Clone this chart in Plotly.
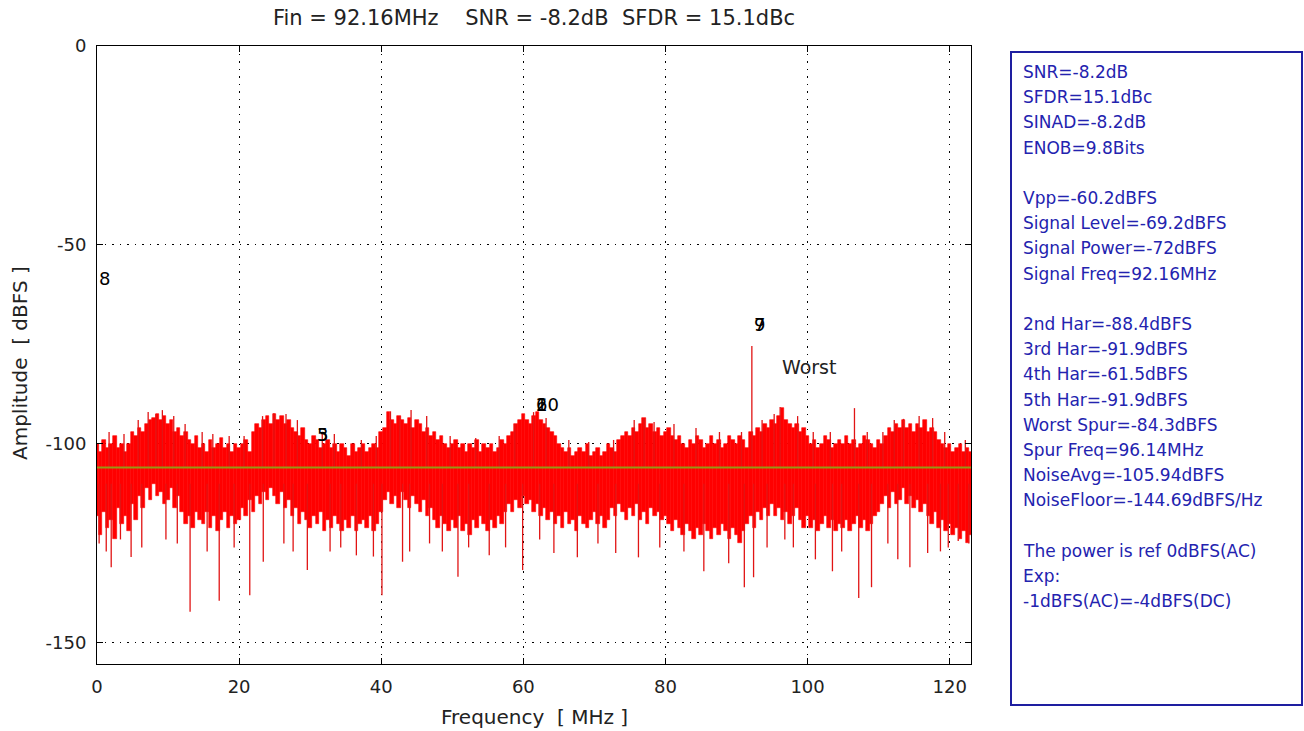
import plotly.graph_objects as go

# ---------------- data ----------------
FREQ_STEP = 0.5  # MHz spacing of the noise bins below
noise_top = [
    -100, -102, -99, -101, -100, -98, -101, -100, -102, -100,
    -97, -98, -96, -97, -95, -94, -93.5, -92.5, -94, -93,
    -95, -94, -97, -96, -98, -97, -99, -100, -98, -101,
    -100, -102, -99, -101, -100, -98.5, -101, -100, -102, -100,
    -101, -100, -99, -102, -97, -95, -96, -94, -93, -95,
    -92.5, -94, -93, -95, -94, -96, -97, -98, -96, -99,
    -100, -98, -99, -101, -100, -99, -101, -100, -102, -100,
    -101, -103, -100, -102, -101, -100, -102, -101, -100, -101,
    -97, -96, -92, -94, -95, -93, -94, -95, -93.5, -96,
    -94, -95, -97, -96, -98, -97, -99, -98, -100, -101,
    -100, -99, -101, -100, -102, -100, -101, -99, -102, -100,
    -101, -100, -102, -101, -99, -100, -98, -97, -95, -94,
    -92.5, -94, -95, -93, -92, -94, -95, -96, -97, -98,
    -100, -101, -102, -101, -103, -102, -101, -102, -100, -103,
    -102, -101, -103, -102, -100, -101, -102, -99, -98, -97,
    -98, -96, -97, -95, -93.5, -96, -95, -97, -96, -98,
    -97, -96, -98, -99, -98, -100, -101, -99, -100, -98,
    -99, -101, -100, -98, -100, -99, -101, -100, -98, -99,
    -100, -98, -99, -101, -97, -98, -96, -97, -95, -96,
    -94, -95, -93, -91, -94, -95, -96, -95, -97, -96,
    -98, -100, -99, -101, -100, -98, -99, -101, -100, -99,
    -100, -98, -100, -99, -101, -100, -98, -99, -100, -101,
    -99, -100, -98, -96, -97, -95, -96, -94, -96, -95,
    -97, -95, -96, -94, -97, -96, -97, -99, -100, -101,
    -100, -102, -101, -100, -102, -101, -102,
]
noise_bottom = [
    -118, -123, -117, -121, -119, -124, -116, -120, -118, -122,
    -115, -119, -113, -116, -111, -114, -110, -113, -112, -115,
    -114, -111, -116, -113, -117, -120, -118, -121, -117, -119,
    -120, -117, -121, -118, -122, -119, -117, -121, -118, -120,
    -119, -116, -118, -114, -117, -113, -115, -112, -114, -111,
    -113, -115, -112, -116, -114, -118, -116, -120, -117, -119,
    -121, -118, -120, -117, -122, -119, -121, -118, -120, -122,
    -119, -121, -118, -122, -120, -119, -121, -118, -122, -120,
    -117, -114, -112, -115, -113, -116, -112, -114, -116, -113,
    -115, -117, -114, -118, -116, -119, -121, -118, -120, -122,
    -119, -121, -118, -122, -120, -123, -119, -121, -118, -120,
    -122, -119, -121, -118, -120, -117, -115, -117, -114, -116,
    -113, -115, -114, -117, -115, -118, -116, -119, -117, -120,
    -118, -121, -117, -120, -119, -122, -118, -120, -121, -119,
    -117, -120, -118, -121, -119, -116, -118, -115, -117, -119,
    -116, -118, -115, -119, -117, -120, -116, -118, -117, -119,
    -118, -120, -122, -119, -121, -123, -120, -122, -124, -121,
    -123, -120, -122, -124, -121, -123, -120, -122, -124, -121,
    -123, -125, -122, -120, -118, -121, -117, -119, -116, -118,
    -115, -118, -116, -119, -117, -120, -118, -116, -119, -121,
    -118, -121, -119, -122, -120, -118, -121, -119, -122, -120,
    -121, -119, -122, -120, -118, -121, -119, -122, -120, -118,
    -117, -115, -113, -116, -112, -115, -114, -111, -115, -113,
    -116, -114, -117, -115, -118, -120, -117, -121, -119, -122,
    -120, -123, -121, -124, -122, -125, -123,
]
noise_freq = [i * FREQ_STEP for i in range(len(noise_top))]

# deep downward noise lines (MHz, dBFS)
dip_freq = [0.3, 1.3, 2.0, 3.3, 4.8, 6.3, 9.7, 11.3, 13.1, 15.5, 17.2, 19.3, 21.5, 23.4,
            26.3, 27.6, 29.6, 32.8, 34.3, 36.5, 38.9, 40.1, 43.0, 44.0, 46.8, 48.6, 50.8,
            52.3, 55.2, 57.5, 59.9, 62.3, 64.3, 67.6, 70.5, 73.0, 76.2, 79.2, 82.6, 85.4,
            88.9, 91.1, 92.4, 94.3, 96.8, 98.0, 101.1, 103.5, 104.8, 107.2, 109.0, 111.3,
            112.7, 114.4, 116.9, 118.7, 119.8, 121.2, 122.7]
dip_level = [-125, -127, -131, -124, -128.4, -126, -124, -125, -142.2, -127, -139.4, -126,
             -138, -129.6, -125, -127, -131.7, -127, -126, -128, -128.3, -138, -129.6, -127,
             -125, -127, -133.4, -126, -128, -126, -131.7, -124, -127.4, -128.5, -125,
             -127.4, -128.5, -126, -127, -132, -130, -136, -133.5, -126, -124, -126, -129,
             -132, -127, -138.7, -136, -125, -129, -131, -127.4, -127, -126, -124.4, -125]

# upward peaks (signal, spurs, noise spikes)
peak_freq = [1.7, 3.8, 5.8, 7.2, 8.3, 9.2, 10.8, 12.4, 14.8, 16.3, 18.6, 20.7, 23.3,
             24.9, 26.6, 28.2, 31.7, 33.4, 37.2, 39.3, 41.3, 42.6, 44.2, 46.4, 49.7,
             53.3, 56.6, 58.8, 61.44, 63.2, 66.4, 69.2, 72.7, 75.6, 77.0, 78.4, 81.2,
             84.3, 87.6, 90.7, 92.16, 93.6, 95.3, 96.14, 98.6, 100.8, 103.2, 106.6,
             108.4, 110.6, 112.2, 113.5, 115.7, 117.6, 119.3, 122.2]
peak_level = [-97, -97.5, -94, -92, -92.5, -91.5, -93, -95, -97, -97.5, -98, -98, -93,
              -92.3, -92.5, -94, -97, -97.5, -99, -98, -91.8, -93, -91.5, -93, -98,
              -98.5, -98, -95, -92.0, -93.5, -99, -99.5, -99, -94, -93.5, -94.5, -95,
              -96, -97, -97, -75.4, -94, -92.5, -90.7, -93, -97, -97, -91.0,
              -97, -97, -94, -93.7, -93, -93.5, -97, -99]

noise_avg = -105.94
x_max = 123.0

# harmonic labels (text, MHz, dBFS)
har_text = ["8", "3", "5", "2", "6", "10", "7", "9"]
har_freq = [0.0, 30.72, 30.72, 61.44, 61.44, 61.44, 92.16, 92.16]
har_level = [-58.3, -97.7, -97.7, -90.2, -90.2, -90.2, -70.1, -70.1]
worst_freq, worst_level = 96.14, -80.6

x_ticks = [0, 20, 40, 60, 80, 100, 120]
x_tick_text = ["0", "20", "40", "60", "80", "100", "120"]
y_ticks = [0, -50, -100, -150]
y_tick_text = ["0", "-50", "-100", "-150"]

title_text = "Fin = 92.16MHz\u00a0\u00a0\u00a0\u00a0SNR = -8.2dB\u00a0\u00a0SFDR = 15.1dBc"
info_lines = [
    "SNR=-8.2dB", "SFDR=15.1dBc", "SINAD=-8.2dB", "ENOB=9.8Bits", "",
    "Vpp=-60.2dBFS", "Signal Level=-69.2dBFS", "Signal Power=-72dBFS",
    "Signal Freq=92.16MHz", "",
    "2nd Har=-88.4dBFS", "3rd Har=-91.9dBFS", "4th Har=-61.5dBFS",
    "5th Har=-91.9dBFS", "Worst Spur=-84.3dBFS", "Spur Freq=96.14MHz",
    "NoiseAvg=-105.94dBFS", "NoiseFloor=-144.69dBFS/Hz", "",
    "The power is ref 0dBFS(AC)", "Exp:", "-1dBFS(AC)=-4dBFS(DC)",
]

# ---------------- figure ----------------
W, H = 1304, 731
ML, MR, MT, MB = 97, 333, 46, 67
PW, PH = W - ML - MR, H - MT - MB
FONT = "DejaVu Sans"
RED = "#ff0000"
SPIKE = "rgb(225,20,20)"
TXT = "#222222"

fig = go.Figure()

fig.add_trace(go.Bar(
    x=noise_freq,
    y=[t - b for t, b in zip(noise_top, noise_bottom)],
    base=noise_bottom,
    width=FREQ_STEP,
    marker=dict(color=RED, line=dict(color=RED, width=0.6)),
    hoverinfo="skip",
))

sx, sy = [], []
for f, v in zip(dip_freq, dip_level):
    sx += [f, f, None]
    sy += [-110, v, None]
for f, v in zip(peak_freq, peak_level):
    sx += [f, f, None]
    sy += [-106, v, None]
fig.add_trace(go.Scatter(x=sx, y=sy, mode="lines",
                         line=dict(color=SPIKE, width=1.3), hoverinfo="skip"))

fig.add_trace(go.Scatter(x=[0, x_max], y=[noise_avg, noise_avg], mode="lines",
                         line=dict(color="rgb(150,150,20)", width=2), hoverinfo="skip"))

ann = []
for t, f, v in zip(har_text, har_freq, har_level):
    ann.append(dict(x=f, y=v, xref="x", yref="y", text=t, showarrow=False,
                    xanchor="left", yanchor="middle",
                    font=dict(family=FONT, size=18, color="black")))
ann.append(dict(x=worst_freq, y=worst_level, xref="x", yref="y", text="Worst",
                showarrow=False, xanchor="left", yanchor="middle",
                font=dict(family=FONT, size=19, color=TXT)))

# axis titles
ann.append(dict(x=0.5, y=(PH - (717 - MT)) / PH, xref="paper", yref="paper",
                text="Frequency\u00a0\u00a0[ MHz ]", showarrow=False,
                xanchor="center", yanchor="middle",
                font=dict(family=FONT, size=20, color=TXT)))
ann.append(dict(x=(20 - ML) / PW, y=0.487, xref="paper", yref="paper",
                text="Amplitude\u00a0\u00a0[ dBFS ]", showarrow=False, textangle=-90,
                xanchor="center", yanchor="middle",
                font=dict(family=FONT, size=20, color=TXT)))

# info box lines
for i, line in enumerate(info_lines):
    if not line:
        continue
    ypx = 72 + 25.2 * i
    ann.append(dict(x=(1021 - ML) / PW, y=(MT + PH - ypx) / PH, xref="paper", yref="paper",
                    text=line, showarrow=False, xanchor="left", yanchor="middle",
                    font=dict(family=FONT, size=17, color="rgb(35,35,175)")))

shapes = [dict(type="rect", xref="paper", yref="paper",
               x0=(1011 - ML) / PW, x1=(1302 - ML) / PW,
               y0=(MT + PH - 705) / PH, y1=(MT + PH - 52) / PH,
               line=dict(color="rgb(30,30,160)", width=2), fillcolor="rgba(0,0,0,0)")]

axis_common = dict(
    showline=True, linecolor="black", linewidth=1, mirror="ticks",
    ticks="inside", ticklen=6, tickcolor="black", tickwidth=1,
    showgrid=True, gridcolor="black", gridwidth=1, griddash="1.5px,6px",
    zeroline=False, tickfont=dict(family=FONT, size=18, color=TXT),
)

fig.update_layout(
    width=W, height=H,
    margin=dict(l=ML, r=MR, t=MT, b=MB, pad=0),
    paper_bgcolor="white", plot_bgcolor="white",
    showlegend=False, bargap=0,
    title=dict(text=title_text, x=0.5, xref="paper",
               y=1 - 18 / H, yref="container", xanchor="center", yanchor="middle",
               font=dict(family=FONT, size=21, color=TXT)),
    xaxis=dict(range=[0, x_max], tickvals=x_ticks, ticktext=x_tick_text,
               ticklabelstandoff=6, **axis_common),
    yaxis=dict(range=[-155.3, 0], tickvals=y_ticks, ticktext=y_tick_text,
               ticklabelstandoff=6, **axis_common),
    annotations=ann, shapes=shapes,
)

fig.write_html("out.html", config={"displayModeBar": False},
               post_script="document.body.style.margin='0';document.body.style.overflow='hidden';")
